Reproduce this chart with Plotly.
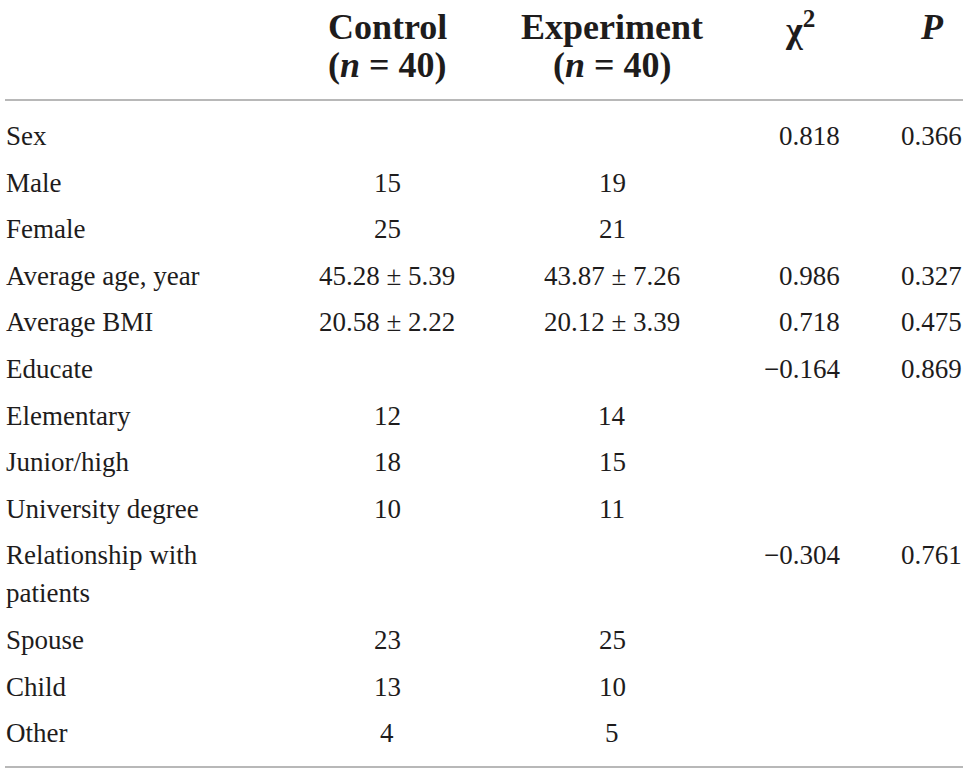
import plotly.graph_objects as go

# table content
labels = ["Sex", "Male", "Female", "Average age, year", "Average BMI", "Educate",
          "Elementary", "Junior/high", "University degree",
          "Relationship with<br>patients", "Spouse", "Child", "Other"]
control = ["", "15", "25", "45.28 ± 5.39", "20.58 ± 2.22", "", "12", "18", "10",
           "", "23", "13", "4"]
experiment = ["", "19", "21", "43.87 ± 7.26", "20.12 ± 3.39", "", "14", "15", "11",
              "", "25", "10", "5"]
chi2 = ["0.818", "", "", "0.986", "0.718", "−0.164", "", "", "", "−0.304", "", "", ""]
pvals = ["0.366", "", "", "0.327", "0.475", "0.869", "", "", "", "0.761", "", "", ""]

headers = ["<b>Control</b><br><b>(<i>n</i> = 40)</b>",
           "<b>Experiment</b><br><b>(<i>n</i> = 40)</b>",
           "<b>χ<sup>2</sup></b>", "<b><i>P</i></b>"]

W, H = 968, 773
FONT = "Liberation Serif"
TXT = "#1e1c1c"
RULE = "#a0a0a0"

fig = go.Figure()
anns = []

def add(text, x, y, anchor, size=27):
    if not text:
        return
    anns.append(dict(text=text, x=x, y=y, xref="x", yref="y", xanchor=anchor,
                     yanchor="middle", showarrow=False,
                     font=dict(family=FONT, size=size, color=TXT)))

# header
head_x = [387, 612, 800, 932]
for h, hx in zip(headers, head_x):
    for j, part in enumerate(h.split("<br>")):
        add(part, hx, 27 + j * 38, "center", size=36)

# body rows
y = 136
for i, lab in enumerate(labels):
    parts = lab.split("<br>")
    for j, part in enumerate(parts):
        add(part, 4, y + j * 38, "left")
    add(control[i], 387, y, "center")
    add(experiment[i], 612, y, "center")
    add(chi2[i], 842, y, "right")
    add(pvals[i], 964, y, "right")
    y += 46.6 + (len(parts) - 1) * 38

for ry in [100, 767]:
    fig.add_shape(type="line", x0=5, x1=963, y0=ry, y1=ry, xref="x", yref="y",
                  line=dict(color=RULE, width=1.5))

fig.update_layout(
    width=W, height=H,
    margin=dict(l=0, r=0, t=0, b=0),
    paper_bgcolor="white", plot_bgcolor="white",
    annotations=anns,
    showlegend=False,
)
fig.update_xaxes(range=[0, W], visible=False, fixedrange=True)
fig.update_yaxes(range=[H, 0], visible=False, fixedrange=True)

fig.write_html("out.html", config={"displayModeBar": False},
               post_script="document.body.style.margin='0';document.body.style.overflow='hidden';")
